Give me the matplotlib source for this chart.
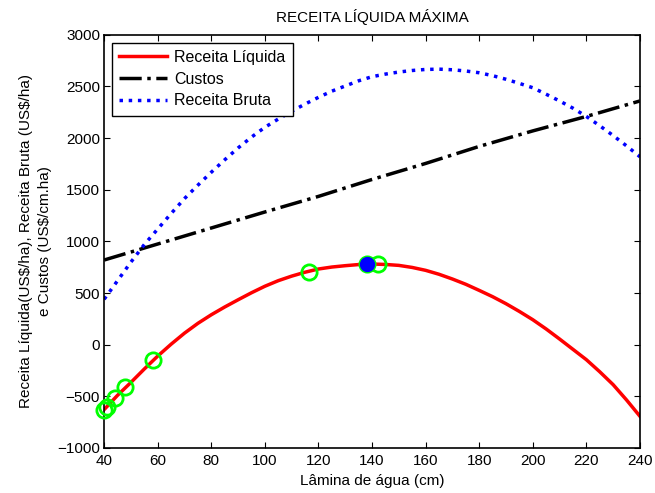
import matplotlib
matplotlib.use("Agg")
import matplotlib.pyplot as plt

plt.rcParams['font.family'] = ['Liberation Sans', 'DejaVu Sans']

# Curves
lamina = list(range(40, 241, 5))
receita_liquida = [-628, -490, -365, -235, -110, 5, 112, 207, 290, 365, 435, 503, 566, 620,
                   664, 702, 733, 752, 765, 776, 781, 777, 768, 748, 720, 682, 636, 585, 526,
                   465, 397, 322, 242, 152, 55, -45, -145, -262, -387, -535, -693]
receita_bruta = [440, 620, 800, 970, 1120, 1270, 1415, 1545, 1670, 1790, 1905, 2010, 2105, 2185,
                 2260, 2330, 2395, 2455, 2505, 2555, 2595, 2620, 2640, 2655, 2665, 2668, 2662,
                 2650, 2633, 2605, 2570, 2530, 2488, 2425, 2360, 2290, 2210, 2120, 2025, 1925, 1820]
custos_x = [40, 60, 80, 100, 120, 140, 160, 180, 200, 220, 240]
custos = [820, 975, 1130, 1285, 1436, 1600, 1755, 1920, 2070, 2210, 2360]

# Marked points
pontos_x = [40.0, 41.0, 44.0, 47.8, 58.4, 116.6, 138.0, 142.4]
pontos_y = [-630, -600, -520, -405, -151, 704, 781, 781]
maximo_x = [138.3]
maximo_y = [781]

fig = plt.figure(figsize=(6.55, 4.93), dpi=100)
ax = fig.add_axes([0.159, 0.0913, 0.818, 0.838])

ax.plot(lamina, receita_liquida, color='red', lw=2.5, label='Receita Líquida')
ax.plot(custos_x, custos, color='black', lw=2.5, ls='-.', label='Custos')
ax.plot(lamina, receita_bruta, color='blue', lw=2.5, ls=':', label='Receita Bruta')
ax.plot(pontos_x, pontos_y, 'o', mfc='none', mec='#00ff00', mew=2, ms=11, ls='none', clip_on=False, zorder=5)
ax.plot(maximo_x, maximo_y, 'o', color='blue', ms=10, ls='none', zorder=6)

ax.set_xlim(40, 240)
ax.set_ylim(-1000, 3000)
ax.set_xticks(range(40, 241, 20))
ax.set_yticks(range(-1000, 3001, 500))
ax.tick_params(direction='in', top=True, right=True, labelsize=11, length=4, pad=3)
ax.tick_params(axis='x', pad=4)
for s in ax.spines.values():
    s.set_linewidth(1.2)

ax.set_title('RECEITA LÍQUIDA MÁXIMA', fontsize=11, pad=9)
ax.set_xlabel('Lâmina de água (cm)', fontsize=11, labelpad=5)
ax.set_ylabel('Receita Líquida(US\\$/ha), Receita Bruta (US\\$/ha)\ne Custos (US\\$/cm.ha)',
              fontsize=11, labelpad=4, linespacing=1.45)

leg = ax.legend(loc='upper left', fontsize=11.5, fancybox=False, edgecolor='black',
                framealpha=1, handlelength=3.0, handletextpad=0.45, borderaxespad=0.5,
                labelspacing=0.42, borderpad=0.45)
leg.get_frame().set_linewidth(1.0)

fig.savefig('out.png', dpi=100)
